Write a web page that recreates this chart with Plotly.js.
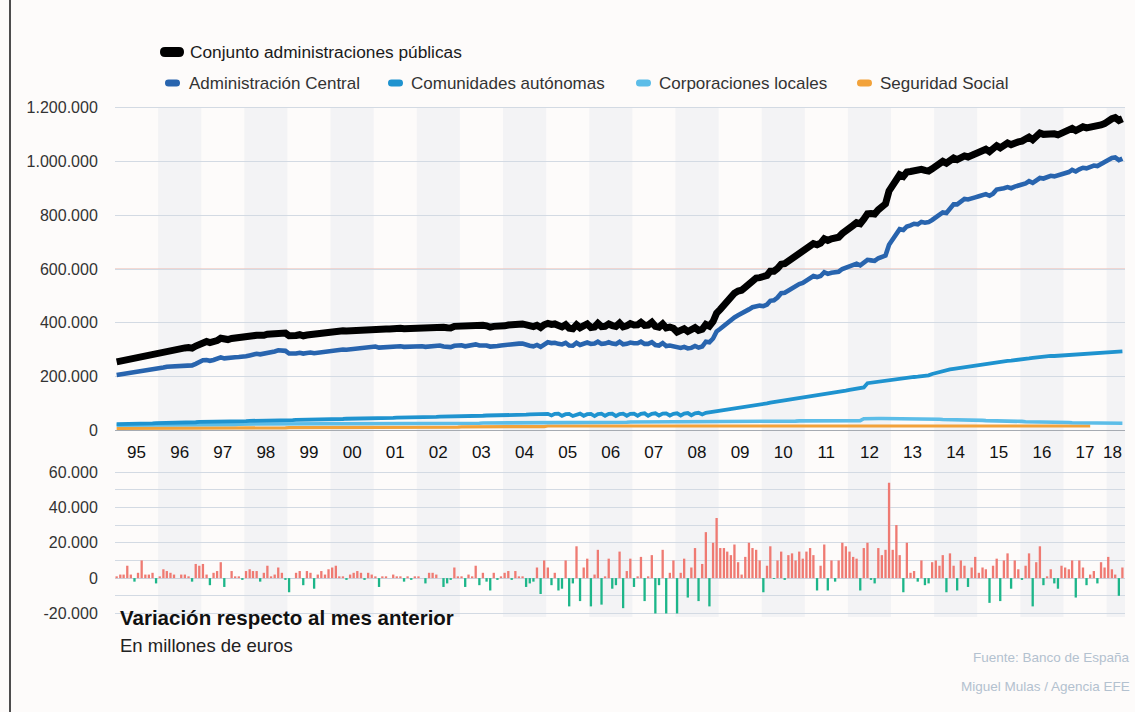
<!DOCTYPE html>
<html><head><meta charset="utf-8">
<script src="https://cdn.plot.ly/plotly-3.0.1.min.js"></script>
<style>html,body{margin:0;padding:0;overflow:hidden;background:#fdfbfa}#chart{width:1135px;height:712px}</style>
</head><body><div id="chart"></div>
<script>
// ---- DATA (miles de millones de euros; monthly from Jan 1995) ----
const startYear = 1995;
const yearLabels = ['95','96','97','98','99','00','01','02','03','04','05','06','07','08','09','10','11','12','13','14','15','16','17','18'];

const total = [
255,258,261,266,268,267,270,278,280,283,286,284,
289,294,298,301,303,303,305,307,308,306,314,321,
329,331,327,330,334,343,338,338,342,343,344,343,
347,350,352,354,352,354,358,359,360,363,364,362,
352,351,353,356,352,355,357,353,355,358,359,362,
366,370,370,371,370,371,373,375,376,375,377,378,
379,375,376,377,377,379,380,380,378,379,378,380,
382,383,381,384,386,388,388,384,382,381,387,388,
389,385,387,388,393,389,391,389,384,387,386,387,
389,392,391,394,395,396,391,388,386,391,383,393,
398,394,396,390,385,393,380,378,393,382,387,396,
383,385,398,386,387,396,390,387,399,385,389,397,
392,393,402,391,392,402,387,384,396,381,384,380,
366,370,378,368,372,382,372,376,394,388,405,436,
450,468,482,494,510,518,521,532,545,558,566,568,
570,576,592,592,602,618,620,630,640,648,658,662,
672,684,694,690,696,712,706,712,712,718,732,740,
752,762,772,768,785,805,806,804,820,830,842,890,
915,940,950,944,960,962,965,963,970,966,964,972,
982,990,1000,993,1005,1012,1006,1015,1020,1016,1022,1030,
1034,1040,1045,1036,1046,1058,1050,1058,1068,1062,1070,1072,
1075,1080,1090,1080,1090,1105,1100,1102,1106,1102,1098,1104,
1110,1114,1122,1114,1122,1128,1124,1126,1130,1128,1135,1140,
1152,1158,1162,1152,1158];

const central = [
206,208,210,214,215,214,216,222,224,226,228,227,
231,234,237,238,239,239,241,242,243,242,248,254,
261,262,259,262,265,272,268,268,271,272,273,273,
276,279,282,285,283,285,290,292,294,298,299,296,
286,284,286,289,286,288,290,287,289,292,293,295,
297,300,300,301,300,302,304,306,307,306,309,311,
312,308,309,310,310,312,313,313,311,312,311,313,
313,313,311,313,315,316,316,312,311,310,315,316,
317,313,315,316,320,316,318,316,312,315,314,316,
318,320,319,322,323,323,318,315,313,318,311,320,
328,325,326,322,320,326,316,315,326,318,321,327,
322,323,330,322,323,328,323,321,330,320,322,327,
324,324,330,322,322,328,318,316,325,314,316,313,
306,307,311,305,307,314,308,312,330,328,342,368,
378,390,400,408,420,428,434,442,450,458,462,464,
462,468,482,484,494,510,512,520,530,536,544,548,
556,566,574,570,574,588,582,586,586,590,600,604,
608,614,620,614,624,634,632,630,640,645,650,690,
712,735,748,745,758,762,768,766,775,772,774,782,
790,798,810,808,825,840,840,852,860,858,864,866,
870,874,878,872,880,895,896,900,904,900,906,908,
914,918,926,920,928,938,936,940,946,944,948,952,
956,960,968,962,970,976,974,978,984,982,990,994,
1006,1012,1014,1004,1010];

const autonomas = [
24,24,25,25,25,26,26,26,27,27,27,28,
28,28,29,29,29,30,30,30,31,31,31,32,
32,32,33,33,33,33,34,34,34,35,35,35,
35,36,36,36,37,37,37,37,38,38,38,39,
39,39,40,40,40,40,41,41,41,42,42,42,
42,43,43,43,44,44,44,44,45,45,45,46,
46,46,47,47,47,47,48,48,48,49,49,49,
50,50,50,51,51,51,52,52,52,53,53,53,
54,54,54,55,55,55,55,56,56,56,57,57,
57,58,58,58,59,59,59,60,60,60,61,61,
62,56,62,63,55,61,62,54,60,63,55,61,
62,54,61,63,55,62,63,54,61,63,55,62,
63,55,62,64,55,62,64,56,63,64,56,62,
64,56,63,65,57,64,66,60,66,68,68,70,
72,74,76,79,82,84,86,88,90,92,94,96,
99,101,104,106,108,110,112,114,116,118,120,122,
124,126,128,130,132,134,136,138,140,142,145,148,
151,153,155,157,160,176,178,179,181,182,184,186,
188,190,194,195,196,198,199,200,201,203,205,210,
214,218,222,225,227,229,231,233,236,238,240,243,
245,248,250,252,254,256,257,258,259,260,261,262,
264,266,268,270,272,274,275,276,277,277,278,279,
280,281,282,283,284,285,286,287,287,288,289,290,
291,292,293,293,294];

const locales = [
20,20,20,20,21,21,21,21,21,21,21,22,
22,22,22,22,22,22,22,22,23,23,23,23,
23,23,23,23,23,23,23,23,23,23,24,24,
24,24,24,24,24,24,24,24,24,24,24,24,
24,24,24,24,24,24,24,25,25,25,25,25,
25,25,25,25,25,25,25,25,25,25,26,26,
26,26,26,26,26,26,26,26,26,26,26,26,
26,26,26,26,26,26,27,27,27,27,27,27,
27,27,27,27,27,27,28,28,28,28,28,28,
28,28,28,28,28,29,29,29,29,29,29,29,
29,29,29,29,30,30,30,30,30,30,30,30,
30,30,30,31,31,31,31,31,31,31,31,32,
32,32,32,32,32,32,32,33,33,33,33,33,
33,33,33,34,34,34,34,34,34,34,35,35,
35,35,35,35,35,35,35,35,35,35,35,35,
35,35,35,35,35,35,35,35,35,35,36,36,
36,36,36,36,36,36,36,36,36,36,36,36,
36,36,37,37,44,45,45,45,45,45,45,44,
44,44,44,44,44,43,43,43,43,43,42,42,
42,42,41,41,41,40,40,40,39,39,39,38,
38,38,37,37,37,36,36,35,35,35,34,34,
34,33,33,33,32,32,32,31,31,31,30,30,
30,30,29,29,29,29,28,28,28,28,28,28,
28,28,28,27,27];

const seguridadSocial = [
8,8,8,8,8,8,8,8,8,9,9,9,
9,9,9,9,9,9,9,9,9,9,9,9,
10,10,10,10,10,10,10,10,10,10,10,10,
10,10,10,10,10,10,10,10,10,10,10,10,
11,11,11,11,11,11,11,11,11,11,11,11,
11,11,11,11,11,11,11,11,11,11,11,11,
12,12,12,12,12,12,12,12,12,12,12,12,
13,13,13,13,13,13,13,13,13,13,13,13,
14,14,14,14,14,14,14,14,14,14,14,14,
15,15,15,15,15,15,15,15,15,15,15,15,
17,17,17,17,17,17,17,17,17,17,17,17,
17,17,17,17,17,17,17,17,17,17,17,17,
17,17,17,17,17,17,17,17,17,17,17,17,
17,17,17,17,17,17,17,17,17,17,17,17,
17,17,17,17,17,17,17,17,17,17,17,17,
17,17,17,17,17,17,17,17,17,17,17,17,
17,17,17,17,17,17,17,17,17,17,17,17,
17,17,17,17,17,17,17,17,17,17,17,17,
17,17,17,17,17,17,17,17,17,17,17,17,
17,17,17,17,17,17,17,17,17,17,17,17,
17,17,17,17,17,17,17,17,17,17,17,17,
17,17,17,17,17,17,17,17,17,17,17,17,
17,17,17,17,17,17,17,17];

// Variación respecto al mes anterior (miles de millones)
const variacion = [
1,2,2,7,2,-2,3,10,2,2,3,-3,
1,5,4,3,2,0,2,2,1,-2,8,7,
8,2,-4,3,4,9,-5,0,4,1,1,-1,
4,5,4,4,-2,3,7,1,2,6,3,-1,
-8,0,3,4,-4,4,3,-6,2,4,2,5,
6,7,1,1,-1,2,3,4,3,-1,3,2,
1,-5,1,1,0,2,1,1,-2,1,-1,1,
1,0,-3,3,3,2,0,-5,-3,-1,6,1,
1,-5,2,1,7,-4,3,-2,-7,3,-1,1,
3,4,-1,4,1,1,-5,-3,-2,6,-9,10,
6,-4,3,-7,-6,10,-16,-3,18,-13,6,11,
-16,2,16,-15,1,11,-6,-4,15,-17,4,11,
-5,1,12,-13,1,13,-20,-4,16,-20,3,10,
-20,3,11,-11,6,17,-13,8,26,-16,20,34,
17,17,15,13,19,9,2,12,20,17,16,10,
-8,7,18,-0.5,10,15,-1,13,14,10,15,11,
15,17,13,-7,7,19,-7,10,-2,10,20,18,
15,12,11,-7,17,20,-1,-3,17,13,16,54,
16,30,13,-8,20,3,4,-2,10,-4,-3,9,
10,7,13,-8,14,7,-7,10,7,-5,6,12,
3,6,5,-14,7,11,-13,10,14,-6,10,5,
-1,7,14,-16,9,18,-4,1,5,-3,-6,7,
6,5,10,-11,10,6,-4,2,4,-3,9,6,
12,5,2,-10,6];

const topTicks = [0,200000,400000,600000,800000,1000000,1200000];
const topTickText = ['0','200.000','400.000','600.000','800.000','1.000.000','1.200.000'];
const botTicks = [-20000,-10000,0,10000,20000,30000,40000,50000,60000];
const botTickText = ['-20.000','','0','','20.000','','40.000','','60.000'];

// ---- helpers ----
const pad = n => (n<10?'0':'')+n;
const monthDate = i => (startYear+Math.floor(i/12))+'-'+pad(i%12+1)+'-15';
const dates = n => Array.from({length:n},(_,i)=>monthDate(i));
const toM = arr => arr.map(v=>v*1000);

const FONT = 'Liberation Sans, Arial, Helvetica, sans-serif';
const L=115, W=1010, H=712;
const px = x => (x-L)/W;
const py = y => 1 - y/H;

const yearTickVals = yearLabels.map((s,i)=> i<yearLabels.length-1 ? (startYear+i)+'-07-02' : (startYear+i)+'-02-20');

// ---- traces ----
const traces = [];
const lineDefs = [
  {y:seguridadSocial, name:'Seguridad Social', color:'#f2a23a', w:3.2},
  {y:locales, name:'Corporaciones locales', color:'#5cbde8', w:3.6},
  {y:autonomas, name:'Comunidades autónomas', color:'#1f93cf', w:3.8},
  {y:central, name:'Administración Central', color:'#2864ae', w:4.6},
  {y:total, name:'Conjunto administraciones públicas', color:'#000000', w:7}
];
lineDefs.forEach(d=>traces.push({
  type:'scatter', mode:'lines', x:dates(d.y.length), y:toM(d.y), name:d.name,
  line:{color:d.color, width:d.w, shape:'linear'}, xaxis:'x', yaxis:'y', showlegend:false, hoverinfo:'skip'
}));
traces.push({
  type:'bar', x:dates(variacion.length), y:toM(variacion), xaxis:'x2', yaxis:'y2',
  marker:{color:variacion.map(v=>v>=0?'#ef7a72':'#1db689'), line:{width:0}},
  showlegend:false, hoverinfo:'skip'
});

// ---- shapes ----
const shapes = [];
for (let yr=startYear; yr<=2018; yr++){
  if (yr%2===0){
    shapes.push({type:'rect', xref:'x', yref:'paper', x0:yr+'-01-01', x1:(yr+1)+'-01-01',
      y0:py(617), y1:py(108), fillcolor:'#f3f3f5', line:{width:0}, layer:'below'});
  }
}
shapes.push({type:'line', xref:'paper', yref:'y', x0:0, x1:1, y0:600000, y1:600000, line:{color:'#ebb7ad', width:1}, layer:'below'});
shapes.push({type:'line', xref:'paper', yref:'paper', x0:px(10), x1:px(10), y0:0, y1:1, line:{color:'#4d4d4d', width:2}});

function pill(x0,x1,yc,h,color){
  const r=h/2;
  const P=(x,y)=>px(x).toFixed(5)+','+py(y).toFixed(5);
  const path='M'+P(x0+r,yc-r)+' L'+P(x1-r,yc-r)+' Q'+P(x1,yc-r)+' '+P(x1,yc)+' Q'+P(x1,yc+r)+' '+P(x1-r,yc+r)+
    ' L'+P(x0+r,yc+r)+' Q'+P(x0,yc+r)+' '+P(x0,yc)+' Q'+P(x0,yc-r)+' '+P(x0+r,yc-r)+' Z';
  return {type:'path', xref:'paper', yref:'paper', path:path, fillcolor:color, line:{width:0}};
}
shapes.push(pill(160,184,52,10,'#000000'));
const legend2 = [
  {x0:165, tx:189, name:'Administración Central', color:'#2864ae'},
  {x0:388, tx:411, name:'Comunidades autónomas', color:'#1f93cf'},
  {x0:636, tx:659, name:'Corporaciones locales', color:'#5cbde8'},
  {x0:857, tx:880, name:'Seguridad Social', color:'#f2a23a'}
];
legend2.forEach(l=>shapes.push(pill(l.x0,l.x0+15,83,7,l.color)));

// ---- annotations ----
const ann = [];
function txt(x,y,text,size,color,extra){
  ann.push(Object.assign({xref:'paper', yref:'paper', x:px(x), y:py(y), xanchor:'left', yanchor:'middle',
    text:text, showarrow:false, font:{family:FONT, size:size, color:color}}, extra||{}));
}
txt(188,52,'Conjunto administraciones públicas',17.3,'#1a1a1a');
legend2.forEach(l=>txt(l.tx-2,83,l.name,17,'#333333'));
txt(118,617,'<b>Variación respecto al mes anterior</b>',20.5,'#111111');
txt(118,645,'En millones de euros',18.5,'#222222');
txt(1132,657,'Fuente: Banco de España',13.5,'#b3c1cf',{xanchor:'right'});
txt(1132,686,'Miguel Mulas / Agencia EFE',13.5,'#b3c1cf',{xanchor:'right'});

const layout = {
  width:1135, height:712,
  margin:{l:L, r:10, t:0, b:0, pad:0},
  paper_bgcolor:'#fdfbfa', plot_bgcolor:'rgba(0,0,0,0)',
  showlegend:false,
  font:{family:FONT, color:'#222'},
  xaxis:{type:'date', domain:[0,1], anchor:'y', range:['1995-01-01','2018-06-06'],
    tickmode:'array', tickvals:yearTickVals, ticktext:yearLabels, ticks:'', showgrid:false, zeroline:false, showline:false,
    tickfont:{family:FONT, size:17, color:'#111'}, fixedrange:true},
  yaxis:{domain:[py(440), py(98)], anchor:'x', range:[-35000,1235000],
    tickmode:'array', tickvals:topTicks, ticktext:topTickText, ticks:'outside', ticklen:13, tickcolor:'rgba(0,0,0,0)',
    gridcolor:'#d3dae3', gridwidth:1, zeroline:true, zerolinecolor:'#a6abb2', zerolinewidth:1.5, showline:false,
    tickfont:{family:FONT, size:16, color:'#333'}},
  xaxis2:{type:'date', domain:[0,1], anchor:'y2', matches:'x', showticklabels:false, ticks:'', showgrid:false, zeroline:false, showline:false},
  yaxis2:{domain:[py(617), py(468.5)], anchor:'x2', range:[-22000,62000],
    tickmode:'array', tickvals:botTicks, ticktext:botTickText, ticks:'outside', ticklen:13, tickcolor:'rgba(0,0,0,0)',
    gridcolor:'#d3dae3', gridwidth:1, zeroline:true, zerolinecolor:'#c9d2dd', zerolinewidth:1, showline:false,
    tickfont:{family:FONT, size:16, color:'#333'}},
  bargap:0.3,
  shapes:shapes,
  annotations:ann
};

Plotly.newPlot('chart', traces, layout, {staticPlot:true, displayModeBar:false});
</script>
</body></html>
